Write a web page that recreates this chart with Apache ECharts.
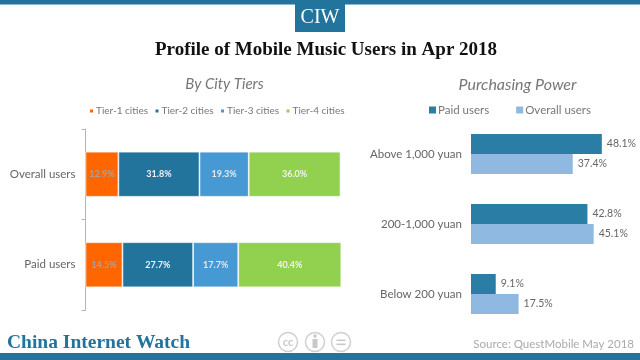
<!DOCTYPE html>
<html><head><meta charset="utf-8">
<style>html,body{margin:0;padding:0;background:#fff}#c{width:640px;height:360px}</style>
<script src="https://cdn.jsdelivr.net/npm/echarts@6/dist/echarts.min.js"></script>
</head><body><div id="c"></div>
<script>
const cityCategories = ['Overall users', 'Paid users'];
const tier1 = [12.9, 14.5];
const tier2 = [31.8, 27.7];
const tier3 = [19.3, 17.7];
const tier4 = [36.0, 40.4];
const powerCategories = ['Above 1,000 yuan', '200-1,000 yuan', 'Below 200 yuan'];
const paidUsers = [48.1, 42.8, 9.1];
const overallUsers = [37.4, 45.1, 17.5];

const sans = 'Lato';
const serif = '"Liberation Serif"';
const chart = echarts.init(document.getElementById('c'), null, {renderer: 'canvas'});

function stack(name, data, color, labelColor) {
  return {
    name, type: 'bar', stack: 'city', xAxisIndex: 0, yAxisIndex: 0, data, barWidth: 45,
    itemStyle: {color, borderColor: '#fff', borderWidth: 0.7},
    label: {show: true, position: 'inside', color: labelColor, fontFamily: sans, fontSize: 9, fontWeight: 'bold',
      formatter: p => p.value.toFixed(1) + '%'}
  };
}
function power(name, data, color) {
  return {
    name, type: 'bar', xAxisIndex: 1, yAxisIndex: 1, data, barWidth: 20, barGap: 0,
    itemStyle: {color},
    label: {show: true, position: 'right', distance: 5, color: '#666', fontFamily: sans, fontSize: 10.5,
      formatter: p => p.value.toFixed(1) + '%'}
  };
}
const circle = (cx) => ({type: 'circle', shape: {cx, cy: 342, r: 9.5}, style: {fill: '#fff', stroke: '#d0d0d0', lineWidth: 1.5}});

chart.setOption({
  animation: false,
  backgroundColor: '#fff',
  grid: [
    {left: 85.5, top: 129, width: 257.55, height: 181},
    {left: 471, top: 119, width: 136, height: 210}
  ],
  legend: [
    {data: ['Tier-1 cities', 'Tier-2 cities', 'Tier-3 cities', 'Tier-4 cities'], left: 88, top: 106, padding: 0, itemWidth: 5, itemHeight: 5, itemGap: 5.5,
      icon: 'rect', textStyle: {color: '#777', fontFamily: sans, fontSize: 10, padding: [0, 0, 0, -3]}},
    {data: ['Paid users', 'Overall users'], left: 429, top: 104, padding: 0, itemWidth: 7, itemHeight: 7, itemGap: 27,
      icon: 'rect', textStyle: {color: '#777', fontFamily: sans, fontSize: 11.5, padding: [0, 0, 0, -3]}}
  ],
  xAxis: [
    {gridIndex: 0, type: 'value', min: 0, max: 101, show: false},
    {gridIndex: 1, type: 'value', min: 0, max: 50, show: false}
  ],
  yAxis: [
    {gridIndex: 0, type: 'category', inverse: true, data: cityCategories,
      axisLine: {lineStyle: {color: '#b5b5b5', width: 1}},
      axisTick: {show: true, length: 4, lineStyle: {color: '#b5b5b5'}},
      axisLabel: {color: '#666', fontFamily: sans, fontSize: 11.5, margin: 10}},
    {gridIndex: 1, type: 'category', inverse: true, data: powerCategories,
      axisLine: {show: false}, axisTick: {show: false},
      axisLabel: {color: '#666', fontFamily: sans, fontSize: 11.5, margin: 9}}
  ],
  series: [
    stack('Tier-1 cities', tier1, '#ff6600', '#a8a09a'),
    stack('Tier-2 cities', tier2, '#22749c', '#f2f2f2'),
    stack('Tier-3 cities', tier3, '#4699d2', '#e8e8e8'),
    stack('Tier-4 cities', tier4, '#92d050', '#f2f2f2'),
    power('Paid users', paidUsers, '#2a7ea6'),
    power('Overall users', overallUsers, '#8fb9e1')
  ],
  graphic: [
    {type: 'rect', shape: {x: 0, y: 0, width: 640, height: 4.5}, style: {fill: '#22749c'}},
    {type: 'rect', shape: {x: 295, y: 0, width: 50, height: 32}, style: {fill: '#22749c'}},
    {type: 'rect', shape: {x: 0, y: 353, width: 640, height: 7}, style: {fill: '#22749c'}},
    {type: 'text', x: 320, y: 18, style: {text: 'CIW', fill: '#fff', font: '20px ' + serif, align: 'center', verticalAlign: 'middle'}},
    {type: 'text', x: 326, y: 50, style: {text: 'Profile of Mobile Music Users in Apr 2018', fill: '#111', font: 'bold 19px ' + serif, align: 'center', verticalAlign: 'middle'}},
    {type: 'text', x: 224.5, y: 84, style: {text: 'By City Tiers', fill: '#777', font: 'italic 15px ' + sans, align: 'center', verticalAlign: 'middle'}},
    {type: 'text', x: 517.5, y: 85, style: {text: 'Purchasing Power', fill: '#777', font: 'italic 16px ' + sans, align: 'center', verticalAlign: 'middle'}},
    {type: 'text', x: 7, y: 343, style: {text: 'China Internet Watch', fill: '#22749c', font: 'bold 19.5px ' + serif, align: 'left', verticalAlign: 'middle'}},
    {type: 'text', x: 634, y: 344, style: {text: 'Source: QuestMobile May 2018', fill: '#aaa', font: '11.5px ' + sans, align: 'right', verticalAlign: 'middle'}},
    circle(288), circle(315), circle(341),
    {type: 'text', x: 288, y: 342, style: {text: 'cc', fill: '#c8c8c8', font: 'bold 11px ' + sans, align: 'center', verticalAlign: 'middle'}},
    {type: 'circle', shape: {cx: 315, cy: 336, r: 1.8}, style: {fill: '#c8c8c8'}},
    {type: 'rect', shape: {x: 312.5, y: 339, width: 5, height: 9}, style: {fill: '#c8c8c8'}},
    {type: 'rect', shape: {x: 336.5, y: 339.5, width: 9, height: 1.6}, style: {fill: '#c8c8c8'}},
    {type: 'rect', shape: {x: 336.5, y: 343.5, width: 9, height: 1.6}, style: {fill: '#c8c8c8'}}
  ]
});
</script></body></html>
